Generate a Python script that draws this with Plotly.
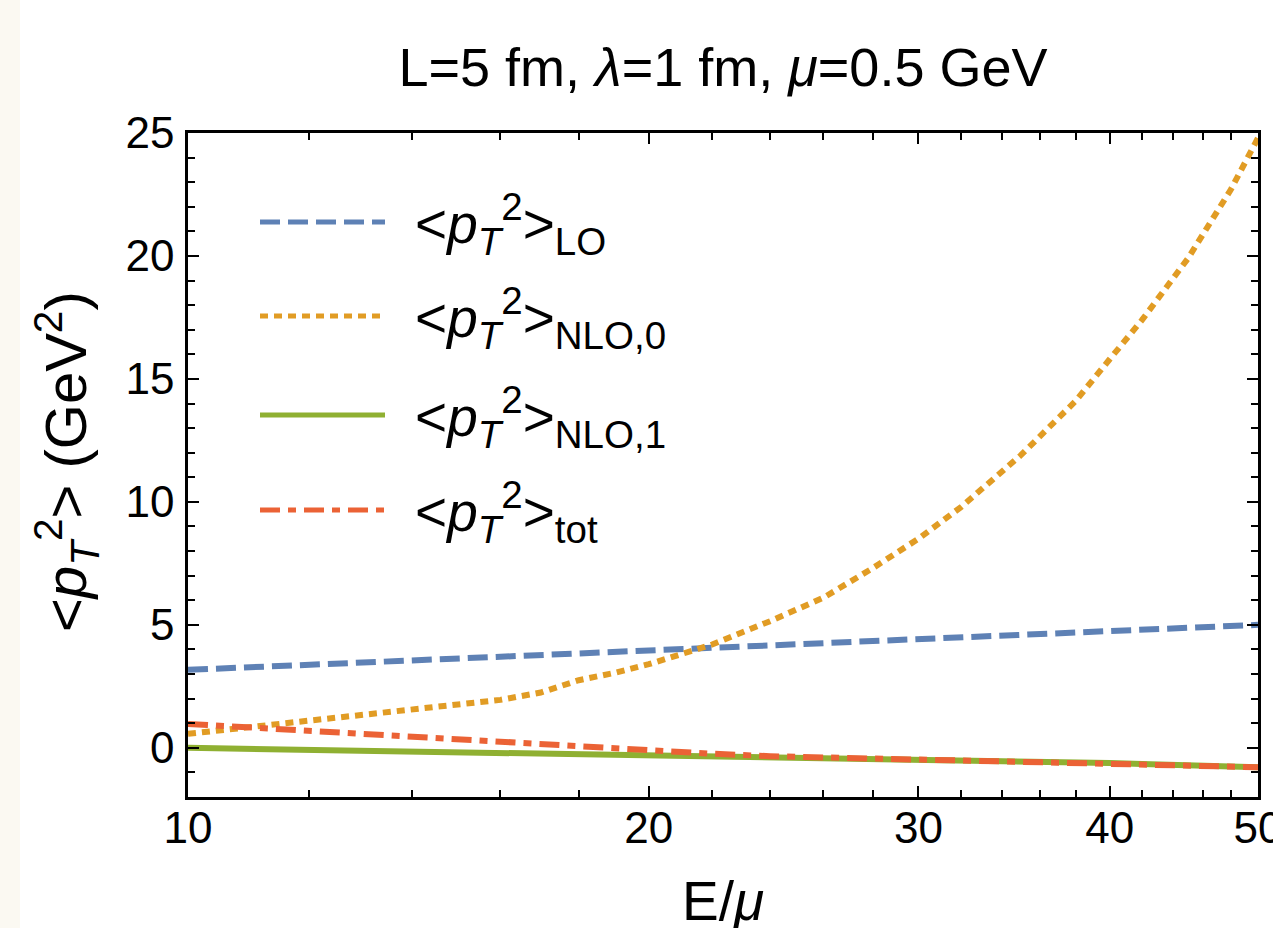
import plotly.graph_objects as go

# ---- data ----
x_vals = [10, 11, 12, 13, 14, 15, 16, 17, 18, 19, 20, 22, 24, 26, 28, 30, 32, 35, 38, 40, 42, 45, 48, 50]
pt2_LO = [3.17, 3.28, 3.38, 3.47, 3.55, 3.63, 3.70, 3.77, 3.84, 3.90, 3.96, 4.07, 4.17, 4.26,
          4.34, 4.42, 4.49, 4.60, 4.69, 4.75, 4.80, 4.88, 4.95, 5.00]
pt2_NLO0 = [0.57, 0.85, 1.10, 1.33, 1.55, 1.72, 1.95, 2.25, 2.75, 3.05, 3.40, 4.20, 5.15, 6.10,
            7.30, 8.50, 9.80, 11.90, 14.10, 15.80, 17.40, 19.90, 22.70, 24.80]
pt2_NLO1 = [0.00, -0.04, -0.07, -0.10, -0.13, -0.16, -0.19, -0.21, -0.24, -0.26, -0.28, -0.32,
            -0.36, -0.40, -0.43, -0.46, -0.49, -0.54, -0.59, -0.62, -0.66, -0.71, -0.76, -0.79]
pt2_tot = [0.97, 0.82, 0.69, 0.58, 0.48, 0.37, 0.27, 0.17, 0.08, -0.01, -0.08, -0.24,
           -0.34, -0.39, -0.43, -0.46, -0.49, -0.54, -0.59, -0.62, -0.66, -0.71, -0.76, -0.79]

x_major = [10, 20, 30, 40, 50]
x_major_text = ["10", "20", "30", "40", "50"]
x_minor = [12, 14, 16, 18, 22, 24, 26, 28, 32, 34, 36, 38, 42, 44, 46, 48]
y_major = [0, 5, 10, 15, 20, 25]
y_major_text = ["0", "5", "10", "15", "20", "25"]
y_minor = [-2, -1, 1, 2, 3, 4, 6, 7, 8, 9, 11, 12, 13, 14, 16, 17, 18, 19, 21, 22, 23, 24]

series_names = [
    "&lt;<i>p</i><sub><i>T</i></sub><sup>2</sup>&gt;<sub>LO</sub>",
    "&lt;<i>p</i><sub><i>T</i></sub><sup>2</sup>&gt;<sub>NLO,0</sub>",
    "&lt;<i>p</i><sub><i>T</i></sub><sup>2</sup>&gt;<sub>NLO,1</sub>",
    "&lt;<i>p</i><sub><i>T</i></sub><sup>2</sup>&gt;<sub>tot</sub>",
]
series_colors = ["#5E81B5", "#E19C24", "#8FB032", "#EB6235"]
series_dash = ["20px,8px", "8px,6px", "solid", "20px,8px,8px,8px"]
series_y = [pt2_LO, pt2_NLO0, pt2_NLO1, pt2_tot]

FONT = "Liberation Sans, Arial, Helvetica, sans-serif"
W, H = 1273, 928
ML, MR, MT, MB = 188, 15, 133, 131
PW, PH = W - ML - MR, H - MT - MB

fig = go.Figure()
for name, ys, col, dash in zip(series_names, series_y, series_colors, series_dash):
    fig.add_trace(go.Scatter(x=x_vals, y=ys, mode="lines", name=name,
                             line=dict(color=col, width=6, dash=dash),
                             showlegend=False))

def px_x(p):
    return (p - ML) / PW

def px_y(p):
    return (H - MB - p) / PH

shapes = []
# beige strip at the far left
shapes.append(dict(type="rect", xref="paper", yref="paper",
                   x0=px_x(0), x1=px_x(20), y0=px_y(H), y1=px_y(0),
                   fillcolor="#FBF9F2", line=dict(width=0), layer="below"))

annotations = []
legend_rows = [222, 316, 415, 510]
for name, col, dash, row in zip(series_names, series_colors, series_dash, legend_rows):
    shapes.append(dict(type="line", xref="paper", yref="paper",
                       x0=px_x(260), x1=px_x(385), y0=px_y(row), y1=px_y(row),
                       line=dict(color=col, width=5, dash=dash)))
    annotations.append(dict(xref="paper", yref="paper", x=px_x(413), y=px_y(row + 2),
                            xanchor="left", yanchor="middle", showarrow=False,
                            text=name, font=dict(family=FONT, size=55, color="black")))

# axis titles
annotations.append(dict(xref="paper", yref="paper", x=0.5, y=px_y(901),
                        xanchor="center", yanchor="middle", showarrow=False,
                        text="E/<i>μ</i>", font=dict(family=FONT, size=55, color="black")))
annotations.append(dict(xref="paper", yref="paper", x=px_x(66), y=px_y(462),
                        xanchor="center", yanchor="middle", showarrow=False, textangle=-90,
                        text="&lt;<i>p</i><sub><i>T</i></sub><sup>2</sup>&gt; (GeV<sup>2</sup>)",
                        font=dict(family=FONT, size=58, color="black")))

axis_common = dict(
    showline=True, linecolor="black", linewidth=2.5, mirror="allticks",
    ticks="inside", ticklen=11, tickwidth=2, tickcolor="black",
    showgrid=False, zeroline=False, automargin=False,
    tickfont=dict(family=FONT, size=44, color="black"),
)

fig.update_layout(
    width=W, height=H,
    margin=dict(l=ML, r=MR, t=MT, b=MB, autoexpand=False),
    paper_bgcolor="white", plot_bgcolor="white",
    title=dict(text="L=5 fm, <i>λ</i>=1 fm, <i>μ</i>=0.5 GeV",
               x=0.5, xref="paper", y=1 - 67 / H, yref="container",
               xanchor="center", yanchor="middle",
               font=dict(family=FONT, size=54, color="black")),
    xaxis=dict(type="log", range=[1, 1.69897], tickmode="array",
               tickvals=x_major, ticktext=x_major_text,
               ticklabeloverflow="allow", ticklabelstandoff=-10,
               minor=dict(tickmode="array", tickvals=x_minor, ticks="inside",
                          ticklen=7, tickwidth=1.5, tickcolor="black", showgrid=False),
               **axis_common),
    yaxis=dict(range=[-2, 25], tickmode="array",
               tickvals=y_major, ticktext=y_major_text, ticklabelstandoff=2,
               minor=dict(tickmode="array", tickvals=y_minor, ticks="inside",
                          ticklen=7, tickwidth=1.5, tickcolor="black", showgrid=False),
               **axis_common),
    shapes=shapes,
    annotations=annotations,
    showlegend=False,
)

fig.write_html("out.html")
